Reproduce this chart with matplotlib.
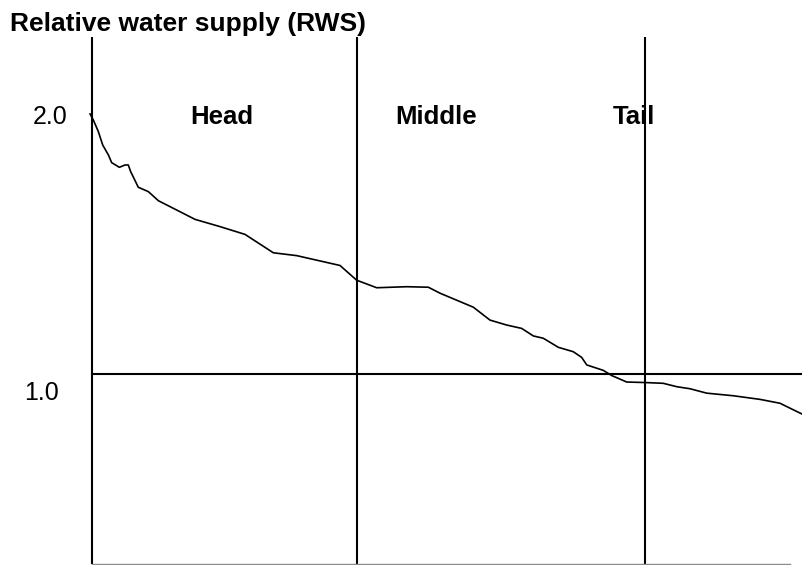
import matplotlib
matplotlib.use("Agg")
import matplotlib.pyplot as plt

plt.rcParams['font.family'] = ['Liberation Sans', 'DejaVu Sans']

# position along the system (%), relative water supply
position = [-0.28, 0.18, 0.89, 1.51, 2.30, 2.77, 3.85, 4.65, 5.11, 5.45, 6.52, 7.94, 9.35,
            11.93, 14.51, 18.03, 21.55, 25.54, 28.83, 34.93, 37.28, 40.10, 44.32, 47.37,
            49.01, 53.70, 56.06, 58.41, 60.52, 62.15, 63.56, 65.68, 67.79, 68.97, 69.68,
            72.01, 73.20, 75.31, 77.89, 80.46, 82.35, 84.23, 86.58, 90.32, 94.08, 96.90,
            98.31, 99.96]
rws = [2.004, 1.981, 1.936, 1.884, 1.846, 1.816, 1.798, 1.807, 1.807, 1.781, 1.721, 1.704,
       1.669, 1.633, 1.597, 1.569, 1.539, 1.468, 1.457, 1.419, 1.362, 1.333, 1.337, 1.335,
       1.312, 1.258, 1.208, 1.189, 1.176, 1.147, 1.138, 1.103, 1.086, 1.064, 1.035, 1.014,
       0.994, 0.969, 0.967, 0.964, 0.951, 0.943, 0.926, 0.916, 0.902, 0.887, 0.868, 0.846]

sections = ['Head', 'Middle', 'Tail']
section_label_x = [18.31, 48.45, 76.34]
boundaries = [0, 37.32, 77.89]
ref_level = 1.0
y_bottom, y_top = 0.266, 2.301

fig = plt.figure(figsize=(8.02, 5.65), dpi=100)
ax = fig.add_axes([0, 0, 1, 1])
ax.set_xlim(-12.96, 100)
ax.set_ylim(0.2625, 2.444)
ax.axis('off')

for b in boundaries:
    ax.plot([b, b], [y_bottom, y_top], color='black', lw=1.5, solid_capstyle='butt')
ax.plot([0, 100], [ref_level, ref_level], color='black', lw=1.5)
ax.plot([0, 98.3], [y_bottom, y_bottom], color='#8c8c8c', lw=1.0)

ax.plot(position, rws, color='black', lw=1.2)

for name, x in zip(sections, section_label_x):
    ax.text(x, 1.965, name, ha='center', va='baseline', fontsize=18.5, fontweight='bold')

ax.text(-8.31, 1.965, '2.0', ha='left', va='baseline', fontsize=18)
ax.text(-9.58, 0.900, '1.0', ha='left', va='baseline', fontsize=18)
ax.text(-11.55, 2.324, 'Relative water supply (RWS)', ha='left', va='baseline',
        fontsize=19, fontweight='bold')

plt.savefig('out.png', dpi=100)
